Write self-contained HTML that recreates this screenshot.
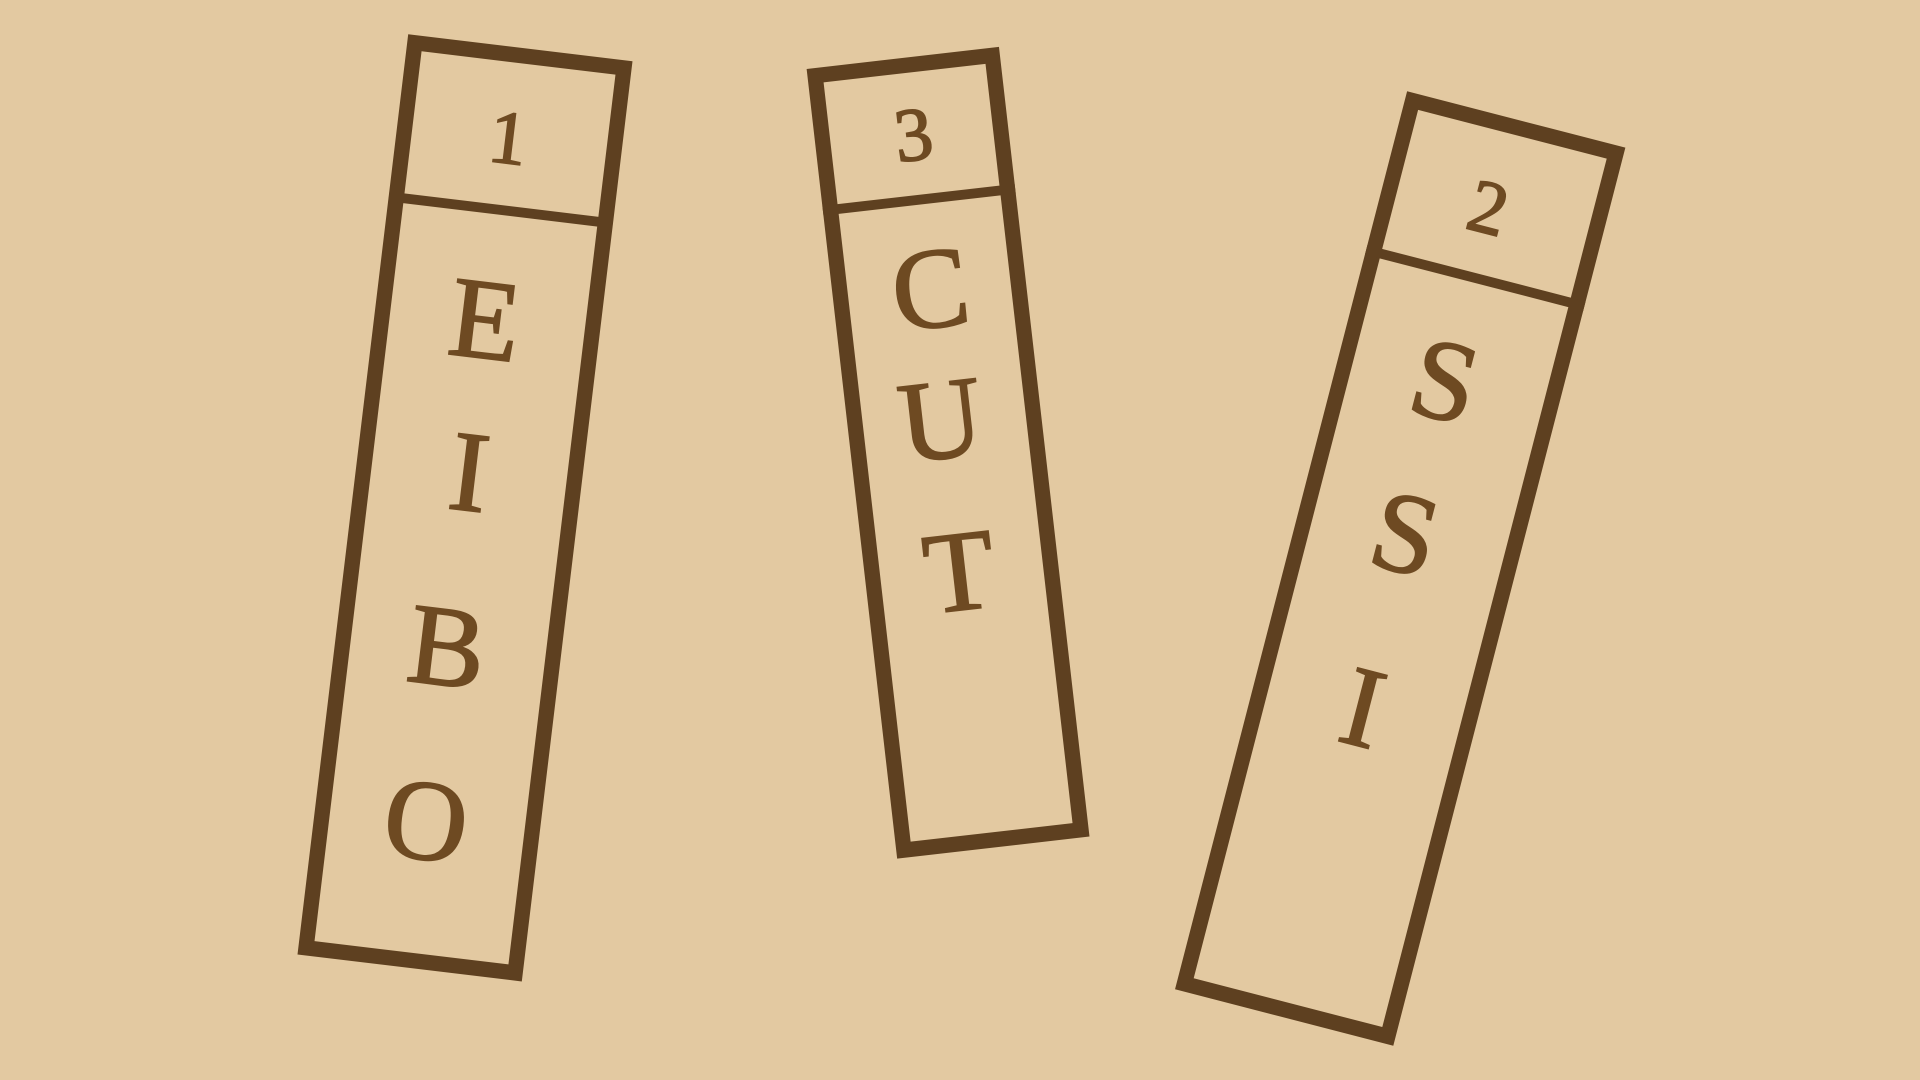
<!DOCTYPE html>
<html><head><meta charset="utf-8"><style>
html,body{margin:0;padding:0;background:#e3c9a1;}
svg{display:block}
text{font-family:"Liberation Serif",serif;fill:#6e4a22;stroke:#6e4a22;stroke-width:1.4;text-anchor:middle;dominant-baseline:central}
</style></head><body>
<svg width="1920" height="1080" viewBox="0 0 1568 882">
<rect x="0" y="0" width="1568" height="882" fill="#e3c9a1"/>
<g transform="translate(379.75,414.75) rotate(6.86)">
  <rect x="-86" y="-372.2" width="172" height="744.4" fill="none" stroke="#5e4020" stroke-width="12.5"/>
  <line x1="-92" y1="-245" x2="92" y2="-245" stroke="#5e4020" stroke-width="8"/>
  <text x="-1" y="-304" font-size="62">1</text>
  <text x="-2" y="-155" font-size="94">E</text>
  <text x="0" y="-30" font-size="94">I</text>
  <text x="-1" y="114" font-size="94">B</text>
  <text x="-1" y="257" font-size="94">O</text>
</g>
<g transform="translate(774.25,369.75) rotate(-6.54)">
  <rect x="-72.8" y="-318.3" width="145.6" height="636.6" fill="none" stroke="#5e4020" stroke-width="12.5"/>
  <line x1="-79" y1="-208" x2="79" y2="-208" stroke="#5e4020" stroke-width="8"/>
  <text x="1.5" y="-261" font-size="62">3</text>
  <text x="1" y="-135" font-size="94">C</text>
  <text x="-3" y="-28" font-size="94">U</text>
  <text x="-2" y="97" font-size="94">T</text>
</g>
<g transform="translate(1143.5,464.25) rotate(14.49)">
  <rect x="-85.8" y="-372.5" width="171.6" height="745" fill="none" stroke="#5e4020" stroke-width="12.5"/>
  <line x1="-92" y1="-245" x2="92" y2="-245" stroke="#5e4020" stroke-width="8"/>
  <text x="-4" y="-303" font-size="62">2</text>
  <text x="-3" y="-158" font-size="94">S</text>
  <text x="-3" y="-29" font-size="94">S</text>
  <text x="-1" y="117" font-size="94">I</text>
</g>
</svg>
</body></html>
